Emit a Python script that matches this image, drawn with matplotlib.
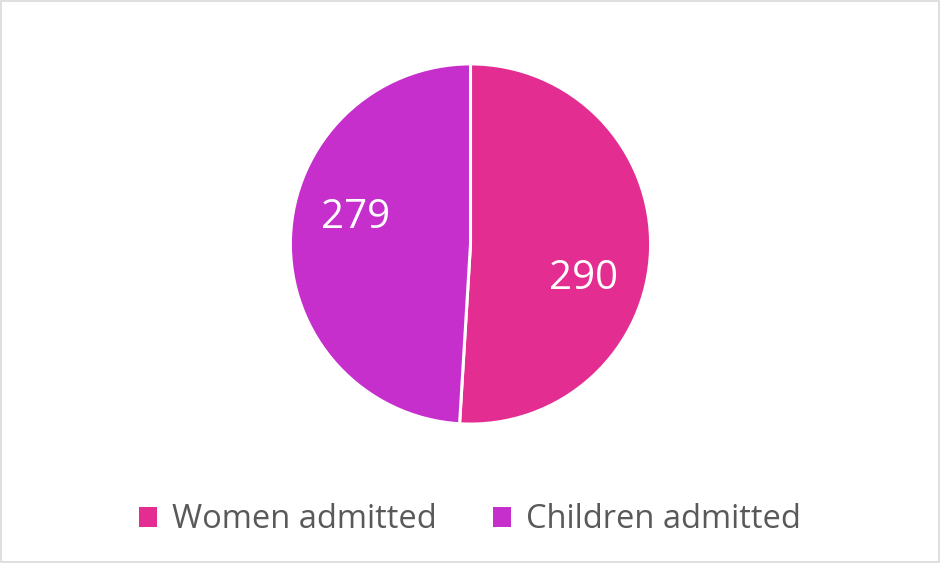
import matplotlib.pyplot as plt
from matplotlib.patches import Rectangle

categories = ["Women admitted", "Children admitted"]
values = [290, 279]
colors = ["#E32D91", "#C62FCC"]

fig = plt.figure(figsize=(9.4, 5.63), dpi=100)
plt.rcParams['font.family'] = ['Open Sans', 'DejaVu Sans']

# pie axes: centre ~ (470, 244) px, radius ~180 px
ax = fig.add_axes([(470.5 - 181) / 940, (563 - 244 - 181) / 563, 362 / 940, 362 / 563])
wedges, _ = ax.pie(values, colors=colors, startangle=90, counterclock=False,
                   wedgeprops=dict(edgecolor="white", linewidth=2.2), radius=1.0)
ax.set_xlim(-1.005, 1.005)
ax.set_ylim(-1.005, 1.005)
ax.set_aspect("equal")

label_pos = [(0.625, -0.195), (-0.64, 0.145)]
for v, (x, y) in zip(values, label_pos):
    ax.text(x, y, str(v), ha="center", va="center", color="white", fontsize=29)

handles = [Rectangle((0, 0), 1, 1, facecolor=c) for c in colors]
fig.legend(handles, categories, loc="center", bbox_to_anchor=(0.5, 1 - 520 / 563),
           ncol=2, frameon=False, fontsize=23.5, labelcolor="#595959",
           handlelength=0.55, handleheight=0.55, handletextpad=0.45, columnspacing=1.75)

fig.patches.append(Rectangle((0.001, 0.001), 0.998, 0.997, transform=fig.transFigure,
                             fill=False, edgecolor="#D9D9D9", linewidth=1.2))

fig.savefig("out.png", dpi=100)
